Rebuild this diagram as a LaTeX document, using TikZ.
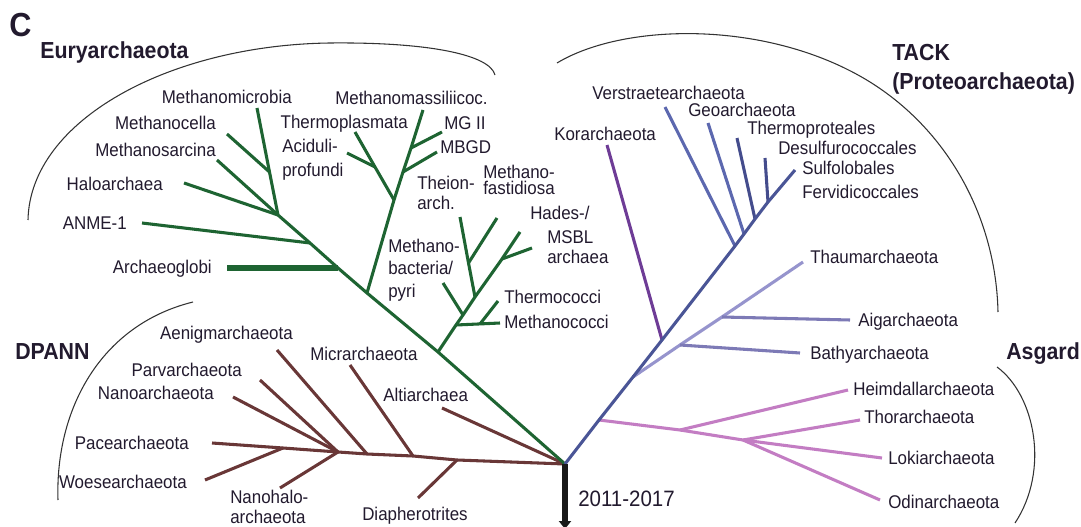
\documentclass[tikz,border=0pt]{standalone}
\usepackage{fontspec}
\setmainfont{Liberation Sans}[FakeStretch=0.92]
\usetikzlibrary{arrows.meta}
\definecolor{txt}{RGB}{34,26,46}
\definecolor{eury}{RGB}{30,100,50}
\definecolor{dpann}{RGB}{105,55,55}
\definecolor{tack}{RGB}{74,85,150}
\definecolor{tackl}{RGB}{92,104,175}
\definecolor{tackd}{RGB}{68,76,140}
\definecolor{kor}{RGB}{110,60,150}
\definecolor{thaum}{RGB}{150,148,205}
\definecolor{aig}{RGB}{125,122,182}
\definecolor{asg}{RGB}{195,125,195}
\begin{document}
\begin{tikzpicture}[x=0.75pt,y=-0.75pt,
  lbl/.style={font=\fontsize{13.8}{16.5}\selectfont, text=txt, inner sep=0pt, text height=9.9pt, text depth=0pt},
  lblm/.style={font=\fontsize{13.8}{16.5}\selectfont, text=txt, inner sep=0pt, align=left},
  grp/.style={font=\fontsize{17.4}{20}\selectfont\bfseries, text=txt, inner sep=0pt, align=left},
  br/.style={line width=2.3pt, line cap=butt, line join=round},
  gr/.style={br, draw=eury},
  bw/.style={br, draw=dpann},
  tk/.style={br, draw=tack},
  bracket/.style={line width=0.8pt, draw=black!80}
]
\useasboundingbox (0,0) rectangle (1081,527);

% ---------- coordinates ----------
\coordinate (root) at (565,464);
% Euryarchaeota
\coordinate (g1) at (438,352);
\coordinate (g2) at (367,293);
\coordinate (g3) at (338,268);
\coordinate (g4) at (310,243);
\coordinate (g5) at (278,215);
\coordinate (archaeoT) at (227,268);
\coordinate (anmeT) at (142,223);
\coordinate (haloT) at (184,183);
\coordinate (msarcT) at (217,160);
\coordinate (mcelJ) at (269.5,172);
\coordinate (mcelT) at (227,134);
\coordinate (mmicT) at (257,108);
\coordinate (tpJ) at (394,200);
\coordinate (mmassT) at (423,110);
\coordinate (mg2J) at (411,148);
\coordinate (mg2T) at (442,132);
\coordinate (mbgdJ) at (403,172);
\coordinate (mbgdT) at (437,152);
\coordinate (tplT) at (355,132);
\coordinate (acidJ) at (375,167);
\coordinate (acidT) at (347,153);
\coordinate (gcocJ) at (456,325);
\coordinate (mcocT) at (500,323);
\coordinate (tcocJ) at (480,324);
\coordinate (tcocT) at (498,301);
\coordinate (mbacJ) at (463,315);
\coordinate (mbacT) at (443,283);
\coordinate (gb) at (475,297);
\coordinate (theionT) at (460,217);
\coordinate (fastJ) at (468.5,263);
\coordinate (fastT) at (497,218);
\coordinate (gc) at (502,259);
\coordinate (msblT) at (532,248);
\coordinate (hadesT) at (520,232);
% DPANN
\coordinate (b1) at (457,460);
\coordinate (b2) at (413,456);
\coordinate (b3) at (367,454);
\coordinate (b4) at (338,452);
\coordinate (b5) at (283,448);
\coordinate (paceT) at (212,443);
\coordinate (woeseT) at (205,480);
\coordinate (nanoT) at (233,397);
\coordinate (parvT) at (260,380);
\coordinate (nhaloT) at (280,488);
\coordinate (aenigT) at (277,350);
\coordinate (micrT) at (350,365);
\coordinate (altiT) at (442,408);
\coordinate (diaphT) at (418,498);
% TACK
\coordinate (t1) at (599,420);
\coordinate (t2) at (633,377);
\coordinate (t3) at (662,340);
\coordinate (t4) at (735,246);
\coordinate (t5) at (744,234);
\coordinate (t6) at (755,219);
\coordinate (t7) at (768,202);
\coordinate (sulfT) at (795,170);
\coordinate (verT) at (665,107);
\coordinate (geoT) at (708,123);
\coordinate (tproT) at (737,138);
\coordinate (desT) at (765,158);
\coordinate (korT) at (607,145);
\coordinate (bathJ) at (680,345);
\coordinate (aigJ) at (722,317);
\coordinate (thaumT) at (803,262);
\coordinate (bathT) at (800,353);
\coordinate (aigT) at (850,320);
% Asgard
\coordinate (a1) at (680,430);
\coordinate (a2) at (743,440);
\coordinate (heimT) at (848,390);
\coordinate (thorT) at (860,420);
\coordinate (lokiT) at (882,458);
\coordinate (odinT) at (880,500);
\coordinate (arrowE) at (565,529);

% ---------- brackets ----------
\draw[bracket] (28,220) .. controls (30,120) and (170,45) .. (330,43) .. controls (430,42) and (490,55) .. (495,75);
\draw[bracket] (557,63) .. controls (625,22) and (770,20) .. (870,82) .. controls (950,132) and (996,220) .. (998,312);
\draw[bracket] (193,302) .. controls (100,325) and (55,410) .. (58,500);
\draw[bracket] (997,367) .. controls (1035,395) and (1050,470) .. (1015,523);

% ---------- DPANN ----------
\draw[bw] (root) -- (b1) -- (b2) -- (b3) -- (b4) -- (b5) -- (paceT);
\draw[bw] (b1) -- (diaphT);
\draw[bw] (b2) -- (micrT);
\draw[bw] (b3) -- (aenigT);
\draw[bw] (b4) -- (nanoT);
\draw[bw] (b4) -- (parvT);
\draw[bw] (b4) -- (nhaloT);
\draw[bw] (b5) -- (woeseT);
\draw[bw] (root) -- (altiT);

% ---------- Euryarchaeota ----------
\draw[gr] (root) -- (g1) -- (g2) -- (g3) -- (g4) -- (g5) -- (mcelJ) -- (mmicT);
\draw[gr] (g5) -- (haloT);
\draw[gr] (g5) -- (msarcT);
\draw[gr] (mcelJ) -- (mcelT);
\draw[gr] (g4) -- (anmeT);
\draw[gr, line width=4pt] (g3) -- (archaeoT);
\draw[gr] (g2) -- (tpJ) -- (mbgdJ) -- (mg2J) -- (mmassT);
\draw[gr] (mg2J) -- (mg2T);
\draw[gr] (mbgdJ) -- (mbgdT);
\draw[gr] (tpJ) -- (acidJ) -- (tplT);
\draw[gr] (acidJ) -- (acidT);
\draw[gr] (g1) -- (gcocJ) -- (mbacJ) -- (gb) -- (gc) -- (hadesT);
\draw[gr] (gcocJ) -- (mcocT);
\draw[gr] (tcocJ) -- (tcocT);
\draw[gr] (mbacJ) -- (mbacT);
\draw[gr] (gb) -- (fastJ) -- (theionT);
\draw[gr] (fastJ) -- (fastT);
\draw[gr] (gc) -- (msblT);

% ---------- TACK ----------
\draw[br, draw=asg] (t1) -- (a1) -- (a2) -- (lokiT);
\draw[br, draw=asg] (a1) -- (heimT);
\draw[br, draw=asg] (a2) -- (thorT);
\draw[br, draw=asg] (a2) -- (odinT);
\draw[br, draw=thaum] (t2) -- (bathJ) -- (aigJ) -- (thaumT);
\draw[br, draw=aig] (bathJ) -- (bathT);
\draw[br, draw=aig] (aigJ) -- (aigT);
\draw[br, draw=kor] (t3) -- (korT);
\draw[br, draw=tackl] (t4) -- (verT);
\draw[br, draw=tackl] (t5) -- (geoT);
\draw[br, draw=tackd] (t6) -- (tproT);
\draw[br, draw=tackd] (t7) -- (desT);
\draw[tk] (root) -- (t1) -- (t2) -- (t3) -- (t4) -- (t5) -- (t6) -- (t7) -- (sulfT);

% ---------- arrow ----------
\draw[line width=3.8pt, draw=black!90, -{Triangle[length=6pt,width=9pt]}] (root) -- (arrowE);

% ---------- labels ----------
\node[font=\fontsize{25}{28}\selectfont\bfseries, text=txt, inner sep=0pt, anchor=west] (lC) at (9,25) {C};
\node[grp, anchor=west] (lEury) at (40,53) {Euryarchaeota};
\node[grp, anchor=west] (lDPANN) at (15,352) {DPANN};
\node[grp, anchor=west] (lTACK) at (892,69) {TACK\\[2pt](Proteoarchaeota)};
\node[grp, anchor=west] (lAsg) at (1006,354) {Asgard};

\node[lbl, anchor=east] (nMmic) at (292,97) {Methanomicrobia};
\node[lbl, anchor=east] (nMcel) at (216,123) {Methanocella};
\node[lbl, anchor=east] (nMsar) at (216,150) {Methanosarcina};
\node[lbl, anchor=east] (nHalo) at (163,184) {Haloarchaea};
\node[lbl, anchor=east] (nAnme) at (127,223) {ANME-1};
\node[lbl, anchor=east] (nArch) at (212,267) {Archaeoglobi};
\node[lbl, anchor=west] (nMmas) at (335,98) {Methanomassiliicoc.};
\node[lbl, anchor=east] (nTpl) at (408,122) {Thermoplasmata};
\node[lblm, anchor=west] (nAcid) at (282,160) {Aciduli-\\[1.5pt]profundi};
\node[lbl, anchor=west] (nMG) at (444,123) {MG II};
\node[lbl, anchor=west] (nMBGD) at (440,147) {MBGD};
\node[lblm, anchor=west] (nTheion) at (417,193) {Theion-\\[-1.5pt]arch.};
\node[lblm, anchor=west] (nFast) at (483,180) {Methano-\\[-4pt]fastidiosa};
\node[lbl, anchor=west] (nHades) at (530,213) {Hades-/};
\node[lblm, anchor=west] (nMSBL) at (547,247) {MSBL\\[-1.5pt]archaea};
\node[lblm, anchor=west] (nMbac) at (388,270) {Methano-\\[0.5pt]bacteria/\\[0.5pt]pyri};
\node[lbl, anchor=west] (nTcoc) at (504,297) {Thermococci};
\node[lbl, anchor=west] (nMcoc) at (504,322) {Methanococci};

\node[lbl, anchor=east] (nAenig) at (293,333) {Aenigmarchaeota};
\node[lbl, anchor=east] (nParv) at (242,370) {Parvarchaeota};
\node[lbl, anchor=east] (nNano) at (214,393) {Nanoarchaeota};
\node[lbl, anchor=east] (nPace) at (189,443) {Pacearchaeota};
\node[lbl, anchor=east] (nWoese) at (187,482) {Woesearchaeota};
\node[lblm, anchor=west] (nNhalo) at (230,507) {Nanohalo-\\[-1pt]archaeota};
\node[lbl, anchor=west] (nMicr) at (310,354) {Micrarchaeota};
\node[lbl, anchor=west] (nAlti) at (383,395) {Altiarchaea};
\node[lbl, anchor=west] (nDiaph) at (362,514) {Diapherotrites};

\node[lbl, anchor=west] (nKor) at (554,134) {Korarchaeota};
\node[lbl, anchor=west] (nVer) at (592,93) {Verstraetearchaeota};
\node[lbl, anchor=west] (nGeo) at (688,110) {Geoarchaeota};
\node[lbl, anchor=west] (nTpro) at (747,128) {Thermoproteales};
\node[lbl, anchor=west] (nDes) at (778,148) {Desulfurococcales};
\node[lbl, anchor=west] (nSulf) at (802,168) {Sulfolobales};
\node[lbl, anchor=west] (nFerv) at (802,192) {Fervidicoccales};
\node[lbl, anchor=west] (nThaum) at (810,257) {Thaumarchaeota};
\node[lbl, anchor=west] (nAig) at (858,320) {Aigarchaeota};
\node[lbl, anchor=west] (nBath) at (810,353) {Bathyarchaeota};
\node[lbl, anchor=west] (nHeim) at (853,389) {Heimdallarchaeota};
\node[lbl, anchor=west] (nThor) at (864,417) {Thorarchaeota};
\node[lbl, anchor=west] (nLoki) at (888,458) {Lokiarchaeota};
\node[lbl, anchor=west] (nOdin) at (888,502) {Odinarchaeota};

\node[font=\fontsize{16.7}{20}\selectfont, text=txt, inner sep=0pt, anchor=west] (nYear) at (578,499) {2011-2017};
\end{tikzpicture}
\end{document}
